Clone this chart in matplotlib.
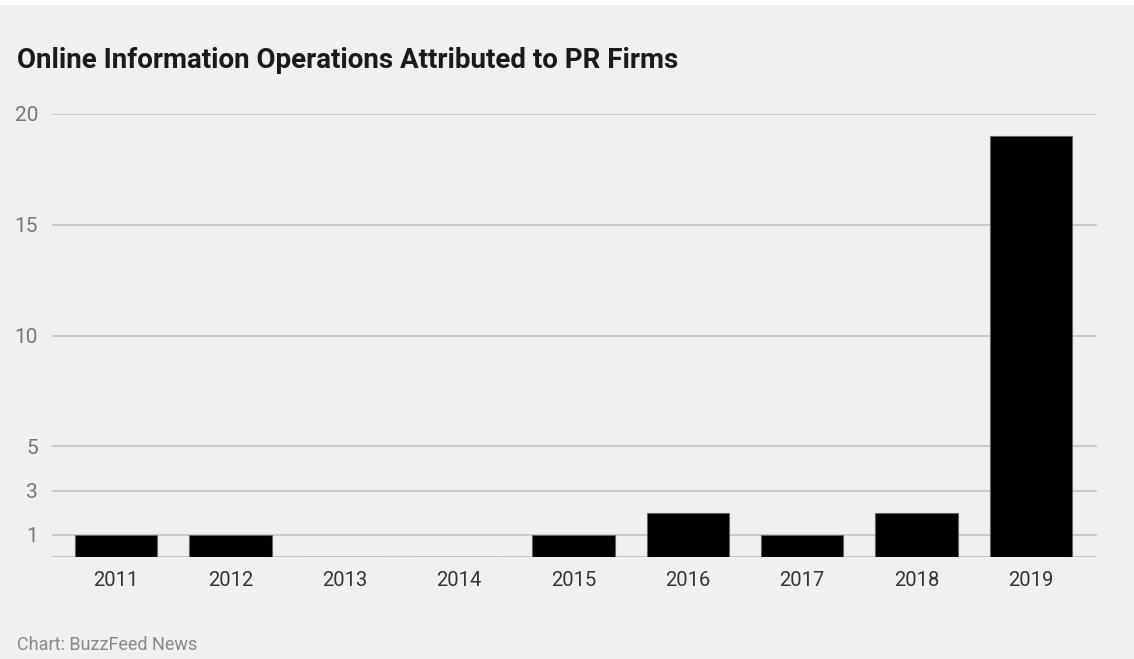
import matplotlib
matplotlib.use("Agg")
import matplotlib.pyplot as plt
from matplotlib.patches import Rectangle

years = ["2011", "2012", "2013", "2014", "2015", "2016", "2017", "2018", "2019"]
counts = [1, 1, 0, 0, 1, 2, 1, 2, 19]
yticks = [1, 3, 5, 10, 15, 20]
title = "Online Information Operations Attributed to PR Firms"
footer = "Chart: BuzzFeed News"

W, H = 1134, 659
fig = plt.figure(figsize=(W / 100, H / 100), dpi=100, facecolor="white")
bg = "#f0f0f0"
fig.patches.append(Rectangle((0, 0), 1, 1 - 5 / H, transform=fig.transFigure,
                             facecolor=bg, edgecolor="none", zorder=-10))

ax = fig.add_axes([52 / W, 1 - 557 / H, (1097 - 52) / W, (557 - 114) / H])
ax.set_facecolor(bg)
ax.patch.set_alpha(0)
x = list(range(len(years)))
ax.bar(x, counts, width=0.72, color="black", edgecolor="#666666", linewidth=0.8, zorder=3)
ax.set_xlim(-0.56, 8.58)
ax.set_ylim(0, 20)
ax.set_yticks(yticks)
ax.set_yticklabels([str(t) for t in yticks])
ax.set_xticks(x)
ax.set_xticklabels(years)
for s in ax.spines.values():
    s.set_visible(False)
ax.axhline(0, color="#c8c8c8", lw=1.5, zorder=2)
ax.grid(axis="y", color="#c8c8c8", lw=1.3, zorder=1)
ax.tick_params(axis="both", length=0)
ax.tick_params(axis="x", pad=10, labelsize=14.5, labelcolor="#333333")
ax.tick_params(axis="y", pad=10, labelsize=15, labelcolor="#777777")
for lab in ax.get_xticklabels() + ax.get_yticklabels():
    lab.set_fontfamily("Roboto")

fig.text(17 / W, 1 - 61 / H, title, fontsize=20, fontweight="bold", family="Roboto",
         color="#1a1a1a", va="center", ha="left")
fig.text(17 / W, 1 - 645 / H, footer, fontsize=13, family="Roboto",
         color="#888888", va="center", ha="left")

fig.savefig("out.png", dpi=100, facecolor="white")
